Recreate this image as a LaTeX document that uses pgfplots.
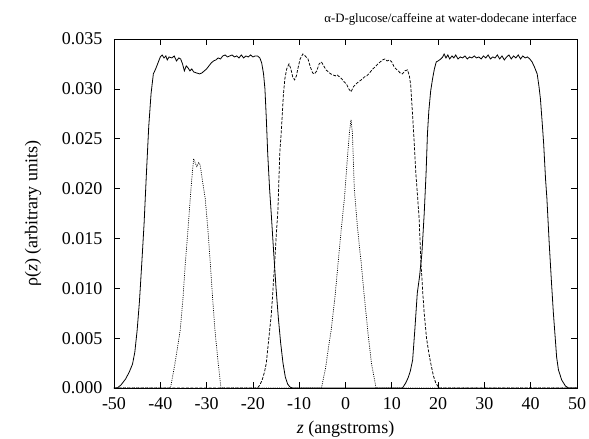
\documentclass[border=0pt]{standalone}
\usepackage{fontspec}
\setmainfont{Liberation Serif}
\usepackage{pgfplots}
\pgfplotsset{compat=1.18}

% water (solid), dodecane (dashed), solutes (dotted)
\pgfplotstableread{
z rho
-50 0
-49.3 0.0000
-48.5 0.0003
-47.5 0.0009
-46.7 0.0016
-46.0 0.0024
-45.5 0.0036
-45.0 0.0058
-44.5 0.0087
-44.0 0.0125
-43.5 0.0165
-43.0 0.0215
-42.5 0.0262
-42.0 0.0295
-41.5 0.0315
-41.0 0.0320
-40.5 0.0326
-40.0 0.0332
-39.6 0.0334
-39.2 0.0331
-38.8 0.0333
-38.5 0.0329
-38.1 0.0332
-37.5 0.0331
-37.0 0.0333
-36.5 0.0328
-36.0 0.0331
-35.6 0.0330
-35.2 0.0325
-34.8 0.0318
-34.4 0.0323
-34.0 0.0321
-33.6 0.0318
-33.2 0.0320
-32.8 0.0317
-32.2 0.0316
-31.5 0.0315
-31.0 0.0316
-30.5 0.0318
-30.0 0.0320
-29.5 0.0323
-29.0 0.0326
-28.5 0.0328
-28.0 0.0329
-27.5 0.0331
-27.0 0.0330
-26.5 0.0333
-26.0 0.0334
-25.5 0.0332
-25.0 0.0333
-24.5 0.0334
-24.0 0.0332
-23.5 0.0333
-23.0 0.0331
-22.5 0.0334
-22.0 0.0331
-21.5 0.0333
-21.0 0.0332
-20.5 0.0334
-20.0 0.0332
-19.5 0.0333
-19.0 0.0333
-18.5 0.0331
-18.1 0.0326
-17.7 0.0315
-17.4 0.0300
-17.1 0.0270
-16.8 0.0235
-16.4 0.0200
-16.0 0.0172
-15.5 0.0135
-15.0 0.0100
-14.5 0.0070
-14.0 0.0045
-13.5 0.0025
-13.0 0.0011
-12.5 0.0004
-12.0 0.0001
-11.5 0
12.3 0
13.0 0.0005
13.5 0.0010
14.0 0.0017
14.5 0.0028
15.0 0.0060
15.5 0.0095
16.0 0.0112
16.5 0.0135
17.0 0.0175
17.4 0.0215
17.7 0.0255
18.0 0.0278
18.4 0.0298
18.8 0.0310
19.2 0.0320
19.6 0.0327
20.0 0.0328
20.6 0.0330
21.0 0.0332
21.3 0.0335
21.7 0.0331
22.1 0.0334
22.5 0.0330
23.0 0.0333
23.4 0.0331
23.8 0.0334
24.3 0.0330
24.8 0.0332
25.3 0.0331
25.8 0.0333
26.3 0.0330
26.8 0.0332
27.3 0.0331
27.8 0.0333
28.3 0.0331
28.8 0.0332
29.3 0.0330
29.8 0.0333
30.3 0.0331
30.8 0.0334
31.3 0.0330
31.8 0.0332
32.3 0.0331
32.8 0.0334
33.3 0.0330
33.8 0.0333
34.3 0.0329
34.8 0.0332
35.3 0.0334
35.8 0.0330
36.3 0.0333
36.8 0.0331
37.3 0.0334
37.8 0.0330
38.3 0.0333
38.8 0.0331
39.3 0.0332
39.8 0.0330
40.3 0.0327
40.8 0.0322
41.4 0.0315
41.8 0.0302
42.1 0.0290
42.5 0.0265
42.8 0.0245
43.2 0.0210
43.5 0.0190
44.0 0.0145
44.5 0.0105
44.9 0.0075
45.3 0.0050
45.6 0.0031
46.0 0.0018
46.7 0.0008
47.5 0.0002
48.2 0
50 0
}\water

\pgfplotstableread{
z rho
-50 0
-19.0 0
-18.5 0.0003
-18.0 0.0008
-17.5 0.0016
-17.1 0.0025
-16.6 0.0048
-16.0 0.0075
-15.3 0.0125
-15.0 0.0150
-14.6 0.0178
-14.2 0.0235
-13.8 0.0262
-13.4 0.0295
-13.1 0.0310
-12.7 0.0320
-12.2 0.0325
-11.8 0.0320
-11.4 0.0312
-11.0 0.0309
-10.6 0.0313
-10.3 0.0320
-9.8 0.0330
-9.2 0.0335
-8.7 0.0333
-8.1 0.0330
-7.6 0.0322
-7.1 0.0316
-6.7 0.0315
-6.2 0.0318
-5.7 0.0325
-5.2 0.0327
-4.7 0.0323
-4.2 0.0319
-3.7 0.0317
-3.2 0.0315
-2.7 0.0314
-2.2 0.0313
-1.8 0.0314
-1.3 0.0312
-0.8 0.0310
-0.3 0.0307
0.2 0.0305
0.7 0.0300
1.2 0.0297
1.7 0.0302
2.3 0.0305
2.8 0.0307
3.4 0.0309
4.1 0.0312
4.6 0.0313
5.2 0.0316
5.9 0.0320
6.4 0.0322
7.0 0.0325
7.5 0.0327
8.0 0.0329
8.5 0.0330
9.0 0.0328
9.5 0.0329
10.0 0.0327
10.5 0.0322
10.9 0.0320
11.4 0.0318
11.8 0.0316
12.3 0.0315
12.8 0.0318
13.4 0.0319
13.8 0.0313
14.1 0.0303
14.4 0.0280
14.8 0.0250
15.2 0.0215
15.6 0.0190
15.9 0.0170
16.3 0.0125
16.7 0.0095
17.0 0.0075
17.5 0.0050
18.0 0.0035
18.4 0.0025
19.0 0.0012
19.5 0.0005
20.2 0
50 0
}\dodecane

\pgfplotstableread{
z rho
-50 0
-37.8 0
-37.0 0.0020
-36.3 0.0040
-35.7 0.0058
-35.1 0.0090
-34.6 0.0125
-34.0 0.0160
-33.5 0.0192
-33.1 0.0215
-32.8 0.0230
-32.4 0.0225
-32.1 0.0222
-31.7 0.0226
-31.4 0.0224
-30.9 0.0208
-30.3 0.0190
-29.7 0.0158
-29.2 0.0125
-28.7 0.0090
-28.2 0.0058
-27.5 0.0025
-26.9 0
-5.2 0
-4.3 0.0020
-3.7 0.0040
-3.1 0.0058
-2.3 0.0090
-1.6 0.0125
-0.9 0.0160
-0.2 0.0192
0.4 0.0230
0.9 0.0259
1.2 0.0269
1.5 0.0255
1.9 0.0200
2.6 0.0160
3.4 0.0125
4.1 0.0090
4.8 0.0058
5.6 0.0025
6.6 0
50 0
}\solutes

\begin{document}
\begin{tikzpicture}
\begin{axis}[
    scale only axis,
    width=463pt, height=349pt,
    xmin=-50, xmax=50,
    ymin=0, ymax=0.035,
    xtick={-50,-40,-30,-20,-10,0,10,20,30,40,50},
    xticklabels={-50,-40,-30,-20,-10,0,10,20,30,40,50},
    ytick={0,0.005,0.010,0.015,0.020,0.025,0.030,0.035},
    scaled y ticks=false,
    /pgf/number format/assume math mode=true,
    tick align=inside,
    major tick length=6pt,
    axis line style={line width=0.9pt},
    tick style={line width=0.7pt, black},
    tick label style={font=\fontsize{18}{20}\selectfont},
    xticklabel style={yshift=-6pt},
    yticklabel style={xshift=-8pt, /pgf/number format/.cd, fixed, fixed zerofill, precision=3},
    xlabel={\textit{z} (angstroms)},
    ylabel={ρ(\textit{z}) (arbitrary units)},
    every axis x label/.style={at={(axis description cs:0.5,-0.118)}, anchor=center,
        font=\fontsize{18}{20}\selectfont},
    every axis y label/.style={at={(axis description cs:-0.175,0.5)}, rotate=90, anchor=center,
        font=\fontsize{18}{20}\selectfont},
    title={α-D-glucose/caffeine at water-dodecane interface},
    title style={at={(1,1)}, anchor=south east, inner xsep=0pt, font=\fontsize{12.8}{14}\selectfont, yshift=4pt},
]
\addplot[black, line width=0.8pt] table[x=z, y=rho] {\water};
\addplot[black, line width=0.75pt, dash pattern=on 3pt off 1.5pt] table[x=z, y=rho] {\dodecane};
\addplot[black, line width=0.7pt, dash pattern=on 1pt off 1.2pt] table[x=z, y=rho] {\solutes};
\end{axis}
\pgfresetboundingbox
\path (current axis.south west) ++(-114pt,-51pt) rectangle ++(589pt,439pt);
\end{tikzpicture}
\end{document}
